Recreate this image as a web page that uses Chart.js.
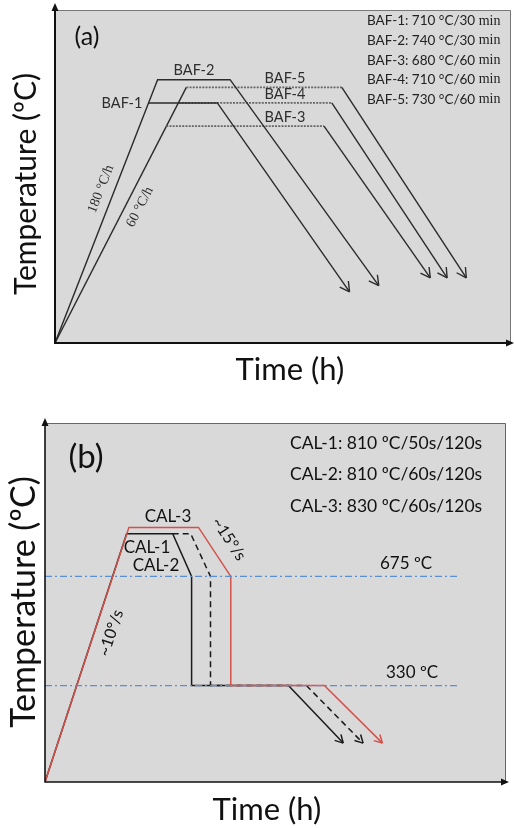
<!DOCTYPE html>
<html lang="en">
<head>
<meta charset="UTF-8">
<title>BAF and CAL annealing cycles</title>
<script src="https://cdn.jsdelivr.net/npm/chart.js@4.4.1/dist/chart.umd.min.js"></script>
<style>
    body { margin: 0; background: #fff; }
    canvas { display: block; }
</style>
</head>
<body>
<canvas id="bafChart" width="514" height="400"></canvas>
<canvas id="calChart" width="514" height="428"></canvas>

<script>
// ---- (a) batch annealing cycles ----
const bafNames = ['BAF-1', 'BAF-2', 'BAF-3', 'BAF-4', 'BAF-5'];
const bafTemps = [710, 740, 680, 710, 730];      // soak temperature, °C
const bafHolds = [30, 30, 60, 60, 60];           // soak time, min
const bafStart = 400;                            // temperature at the axis corner
const bafHeatEnd = [2.05, 2.25, 2.44, 2.71, 2.88];   // time the soak starts
const bafHoldEnd = [3.56, 3.84, 5.90, 6.07, 6.29];   // time the soak ends
const bafCoolEnd = [6.46, 7.10, 8.23, 8.60, 9.02];   // arrow tip time
const bafCoolTemp = [466, 474, 484, 484, 484];       // arrow tip temperature
const bafRates = ['180 °C/h', '60 °C/h'];

// ---- (b) continuous annealing cycles ----
const calNames = ['CAL-1', 'CAL-2', 'CAL-3'];
const calPeak = [810, 810, 830];                 // °C
const calSoak = [50, 60, 60];                    // s
const calAge = [120, 120, 120];                  // s at overageing
const calQuench = 675;                           // °C, end of slow cooling
const calOverage = 330;                          // °C, overageing hold
const calStart = 25;
const calHeatEnd = [1.77, 1.77, 1.82];
const calSoakEnd = [2.77, 3.16, 3.33];
const calSlowEnd = [3.18, 3.59, 4.03];
const calHoldEnd = [5.28, 5.67, 6.06];
const calCoolEnd = [6.47, 6.90, 7.32];
const calCoolTemp = [148, 148, 148];
const calRefEnd = 9.0;
const calRates = ['~10°/s', '~15°/s'];

const SANS = 'Lato, "Open Sans", sans-serif';
const SERIF = '"Liberation Serif", "DejaVu Serif", serif';

// gray panel, thin top/right edge, black axes with arrow heads
const frame = {
    id: 'frame',
    beforeDatasetsDraw(chart, args, o) {
        const {ctx, chartArea: a} = chart;
        ctx.save();
        ctx.fillStyle = o.fill;
        ctx.fillRect(a.left, a.top, a.right - a.left, a.bottom - a.top);
        ctx.strokeStyle = o.edge;
        ctx.lineWidth = 1;
        ctx.beginPath();
        ctx.moveTo(a.left, a.top + 0.5);
        ctx.lineTo(a.right - 0.5, a.top + 0.5);
        ctx.lineTo(a.right - 0.5, a.bottom);
        ctx.stroke();
        ctx.restore();
    },
    afterDraw(chart, args, o) {
        const {ctx, chartArea: a} = chart;
        ctx.save();
        ctx.strokeStyle = ctx.fillStyle = '#111';
        ctx.lineWidth = o.width;
        ctx.beginPath();
        ctx.moveTo(a.left, o.yTip + 5);
        ctx.lineTo(a.left, a.bottom);
        ctx.lineTo(o.xTip - 5, a.bottom);
        ctx.stroke();
        ctx.beginPath();
        ctx.moveTo(a.left, o.yTip);
        ctx.lineTo(a.left - 3.5, o.yTip + 8);
        ctx.lineTo(a.left + 3.5, o.yTip + 8);
        ctx.closePath();
        ctx.moveTo(o.xTip, a.bottom);
        ctx.lineTo(o.xTip - 8, a.bottom - 3.5);
        ctx.lineTo(o.xTip - 8, a.bottom + 3.5);
        ctx.closePath();
        ctx.fill();
        ctx.restore();
    }
};

// open arrow head at the last point of datasets that carry an arrow size
const lineArrows = {
    id: 'lineArrows',
    afterDatasetsDraw(chart) {
        const ctx = chart.ctx;
        chart.data.datasets.forEach((ds, i) => {
            if (!ds.arrow) return;
            const pts = chart.getDatasetMeta(i).data;
            const p1 = pts[pts.length - 1], p0 = pts[pts.length - 2];
            const ang = Math.atan2(p1.y - p0.y, p1.x - p0.x);
            ctx.save();
            ctx.strokeStyle = ds.borderColor;
            ctx.lineWidth = ds.borderWidth;
            ctx.setLineDash([]);
            ctx.beginPath();
            [-0.5, 0.5].forEach(s => {
                ctx.moveTo(p1.x - ds.arrow * Math.cos(ang + s), p1.y - ds.arrow * Math.sin(ang + s));
                ctx.lineTo(p1.x, p1.y);
            });
            ctx.stroke();
            ctx.restore();
        });
    }
};

function rotText(ctx, txt, x, y, ang) {
    ctx.save();
    ctx.translate(x, y);
    ctx.rotate(ang);
    ctx.fillText(txt, 0, 0);
    ctx.restore();
}

function segAngle(chart, i, k) {
    const pts = chart.getDatasetMeta(i).data;
    return Math.atan2(pts[k + 1].y - pts[k].y, pts[k + 1].x - pts[k].x);
}

// ---------- chart (a) ----------
// the heating ramp is drawn once per rate, by the hottest cycle of each hold group
const rampOwner = bafNames.map((n, i) =>
    bafTemps[i] === Math.max(...bafTemps.filter((t, j) => bafHolds[j] === bafHolds[i])));

const bafSets = bafNames.map((name, i) => {
    const pts = [];
    if (rampOwner[i]) pts.push({x: 0, y: bafStart});
    pts.push({x: bafHeatEnd[i], y: bafTemps[i]});
    pts.push({x: bafHoldEnd[i], y: bafTemps[i]});
    pts.push({x: bafCoolEnd[i], y: bafCoolTemp[i]});
    const holdSeg = pts.length - 3;
    const dotted = bafHolds[i] === 60;
    return {
        label: name,
        data: pts,
        arrow: 11,
        borderColor: '#2b2b2b',
        borderWidth: 1.4,
        segment: {
            borderDash: c => dotted && c.p0DataIndex === holdSeg ? [2, 1.2] : undefined,
            borderColor: c => dotted && c.p0DataIndex === holdSeg ? '#666' : undefined,
            borderWidth: c => dotted && c.p0DataIndex === holdSeg ? 1.8 : undefined
        }
    };
});

const bafText = {
    id: 'bafText',
    afterDraw(chart) {
        const {ctx, scales: {x, y}} = chart;
        ctx.save();
        ctx.fillStyle = '#111';
        ctx.textBaseline = 'middle';
        ctx.textAlign = 'center';

        ctx.font = '25px ' + SANS;
        ctx.fillText('(a)', 87, 37);

        ctx.font = '31px ' + SANS;
        ctx.fillText('Time (h)', 290, 370);
        ctx.font = '30px ' + SANS;
        rotText(ctx, 'Temperature (ºC)', 26, 184, -Math.PI / 2);

        // cycle labels
        ctx.fillStyle = '#2e2e2e';
        ctx.font = '14.5px ' + SANS;
        const lab = [[122, 0], [194, -9], [285, -9], [285, -9], [285, -9]];
        bafNames.forEach((n, i) => {
            const ly = y.getPixelForValue(bafTemps[i]) + lab[i][1];
            ctx.fillText(n, lab[i][0], ly);
        });

        // heating rates along the two ramps
        ctx.font = '14px ' + SERIF;
        const r2 = bafNames.findIndex((n, i) => rampOwner[i] && bafHolds[i] === 30);
        const r5 = bafNames.findIndex((n, i) => rampOwner[i] && bafHolds[i] === 60);
        rotText(ctx, bafRates[0], 101, 189, segAngle(chart, r2, 0));
        rotText(ctx, bafRates[1], 140, 207, segAngle(chart, r5, 0));

        // parameter list
        ctx.fillStyle = '#222';
        ctx.textAlign = 'left';
        bafNames.forEach((n, i) => {
            const ly = 21 + i * 19.6;
            ctx.font = '13.5px ' + SANS;
            const head = `${n}: ${bafTemps[i]} °C/${bafHolds[i]}`;
            ctx.fillText(head, 367, ly);
            const w = ctx.measureText(head + ' ').width;
            ctx.font = '14px ' + SERIF;
            ctx.fillText('min', 367 + w, ly);
        });
        ctx.restore();
    }
};

new Chart(document.getElementById('bafChart'), {
    type: 'line',
    data: {datasets: bafSets},
    options: {
        responsive: false,
        animation: false,
        devicePixelRatio: 1,
        layout: {padding: {left: 55, top: 10, right: 3, bottom: 57}},
        elements: {point: {radius: 0}, line: {tension: 0}},
        scales: {
            x: {type: 'linear', min: 0, max: 10, display: false},
            y: {type: 'linear', min: 400, max: 830, display: false}
        },
        plugins: {
            legend: {display: false},
            tooltip: {enabled: false},
            frame: {fill: '#d9d9d9', edge: '#777', width: 2, yTip: 3, xTip: 514}
        }
    },
    plugins: [frame, lineArrows, bafText]
});

// ---------- chart (b) ----------
const calStyle = {
    'CAL-1': {color: '#1a1a1a', dash: [], order: 1},
    'CAL-2': {color: '#1a1a1a', dash: [6, 4], order: 1},
    'CAL-3': {color: '#d4514b', dash: [], order: 0}
};

const calSets = calNames.map((name, i) => {
    const pts = [];
    // a cycle with the same peak as an earlier one branches off at the end of that soak
    const j = calPeak.indexOf(calPeak[i]);
    if (j === i) {
        pts.push({x: 0, y: calStart});
        pts.push({x: calHeatEnd[i], y: calPeak[i]});
    } else {
        pts.push({x: calSoakEnd[j], y: calPeak[i]});
    }
    pts.push({x: calSoakEnd[i], y: calPeak[i]});
    pts.push({x: calSlowEnd[i], y: calQuench});
    pts.push({x: calSlowEnd[i], y: calOverage});
    pts.push({x: calHoldEnd[i], y: calOverage});
    pts.push({x: calCoolEnd[i], y: calCoolTemp[i]});
    const s = calStyle[name];
    return {
        label: name,
        data: pts,
        arrow: 9,
        borderColor: s.color,
        borderDash: s.dash,
        borderWidth: 1.5,
        order: s.order
    };
});

[calQuench, calOverage].forEach(t => calSets.push({
    label: t + ' ºC',
    data: [{x: 0, y: t}, {x: calRefEnd, y: t}],
    borderColor: '#5b8fd3',
    borderDash: [7, 3, 2, 3],
    borderWidth: 1.3,
    order: -1
}));

const calText = {
    id: 'calText',
    afterDraw(chart) {
        const {ctx, scales: {x, y}} = chart;
        ctx.save();
        ctx.fillStyle = '#111';
        ctx.textBaseline = 'middle';
        ctx.textAlign = 'center';

        ctx.font = '33px ' + SANS;
        ctx.fillText('(b)', 86, 57);

        ctx.font = '31px ' + SANS;
        ctx.fillText('Time (h)', 267, 410);
        ctx.font = '34px ' + SANS;
        rotText(ctx, 'Temperature (ºC)', 24, 202, -Math.PI / 2);

        // cycle labels around the soak plateaus
        ctx.font = '17px ' + SANS;
        ctx.fillText(calNames[2], 168, y.getPixelForValue(calPeak[2]) - 11);
        ctx.fillText(calNames[0], 147, y.getPixelForValue(calPeak[0]) + 14);
        ctx.fillText(calNames[1], 156, y.getPixelForValue(calPeak[1]) + 32);

        // rates
        ctx.font = '16px ' + SANS;
        rotText(ctx, calRates[0], 111, 233, segAngle(chart, 2, 0));
        rotText(ctx, calRates[1], 229, 139, segAngle(chart, 2, 2));

        // reference temperatures
        ctx.font = '17px ' + SANS;
        ctx.textAlign = 'left';
        ctx.fillText(calQuench + ' ºC', 380, y.getPixelForValue(calQuench) - 13);
        ctx.fillText(calOverage + ' ºC', 386, y.getPixelForValue(calOverage) - 13);

        // parameter list
        ctx.font = '17.5px ' + SANS;
        calNames.forEach((n, i) => {
            ctx.fillText(`${n}: ${calPeak[i]} ºC/${calSoak[i]}s/${calAge[i]}s`, 290, 43 + i * 31.5);
        });
        ctx.restore();
    }
};

new Chart(document.getElementById('calChart'), {
    type: 'line',
    data: {datasets: calSets},
    options: {
        responsive: false,
        animation: false,
        devicePixelRatio: 1,
        layout: {padding: {left: 45, top: 23, right: 8, bottom: 46}},
        elements: {point: {radius: 0}, line: {tension: 0}},
        scales: {
            x: {type: 'linear', min: 0, max: 10, display: false},
            y: {type: 'linear', min: 25, max: 1160, display: false}
        },
        plugins: {
            legend: {display: false},
            tooltip: {enabled: false},
            frame: {fill: '#d9d9d9', edge: '#666', width: 1.6, yTip: 18, xTip: 509}
        }
    },
    plugins: [frame, lineArrows, calText]
});
</script>
</body>
</html>
